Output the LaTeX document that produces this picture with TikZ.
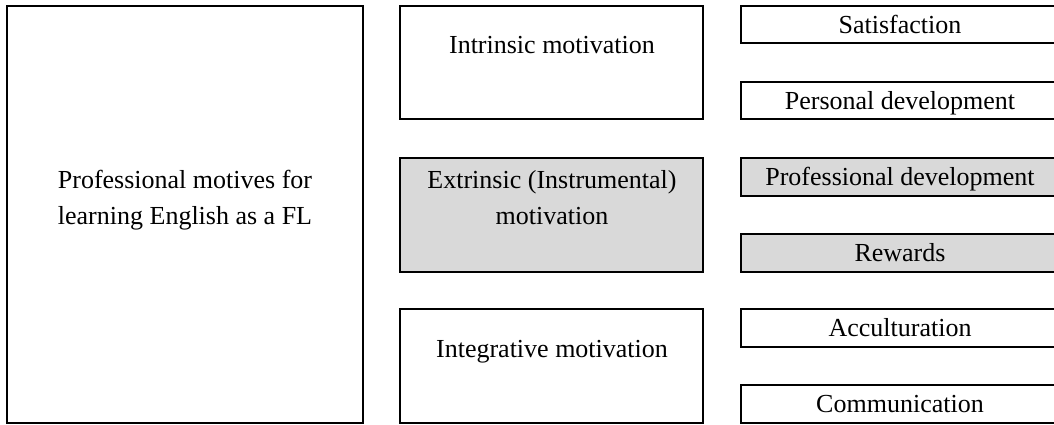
\documentclass[tikz,border=0pt]{standalone}
\usepackage{fontspec}
\setmainfont{Liberation Serif}
\begin{document}
\begin{tikzpicture}[x=0.5pt,y=-0.5pt,
  boxw/.style={draw=black,line width=1pt,fill=white},
  boxg/.style={draw=black,line width=1pt,fill=gray!30},
  txt/.style={anchor=base,inner sep=0pt,font=\fontsize{13}{18}\selectfont}]
\useasboundingbox (0,0) rectangle (1054,424);
\begin{scope}
\clip (0,0) rectangle (1054,424);
% boxes
\draw[boxw] (7,6) rectangle (363,423);
\draw[boxw] (400,6) rectangle (703,119);
\draw[boxg] (400,158) rectangle (703,272);
\draw[boxw] (400,309) rectangle (703,423);
\draw[boxw] (741,6) rectangle (1060,43);
\draw[boxw] (741,82) rectangle (1060,119);
\draw[boxg] (741,158) rectangle (1060,196);
\draw[boxg] (741,234) rectangle (1060,272);
\draw[boxw] (741,309) rectangle (1060,347);
\draw[boxw] (741,385) rectangle (1060,423);
\end{scope}
% texts
\node[txt] (main1) at (185,188) {Professional motives for};
\node[txt] (main2) at (185,224) {learning English as a FL};
\node[txt] (intr) at (552,53) {Intrinsic motivation};
\node[txt] (extr1) at (552,188) {Extrinsic (Instrumental)};
\node[txt] (extr2) at (552,224) {motivation};
\node[txt] (integ) at (552,357) {Integrative motivation};
\node[txt] (sat) at (900,33) {Satisfaction};
\node[txt] (pers) at (900,109) {Personal development};
\node[txt] (prof) at (900,185) {Professional development};
\node[txt] (rew) at (900,261) {Rewards};
\node[txt] (acc) at (900,336) {Acculturation};
\node[txt] (com) at (900,412) {Communication};
\end{tikzpicture}
\end{document}
